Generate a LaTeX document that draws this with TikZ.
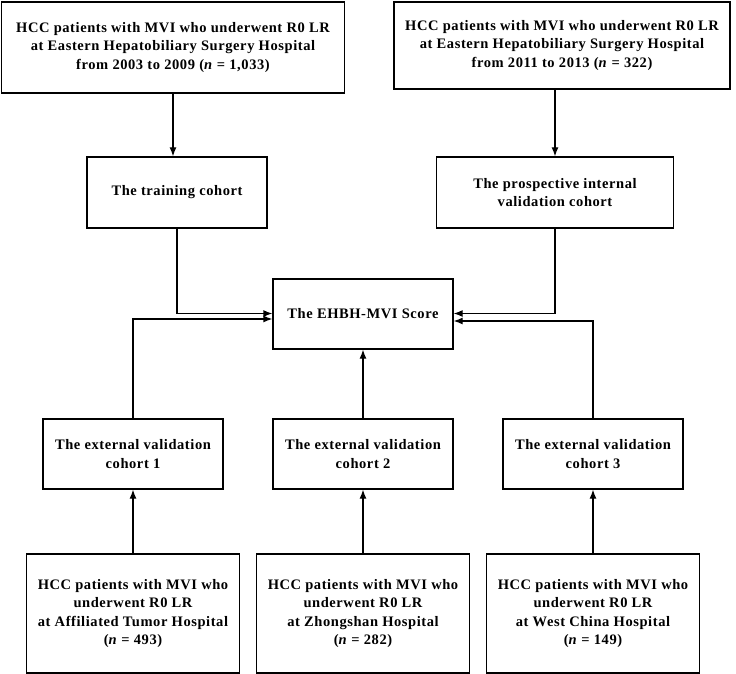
\documentclass[tikz,border=0pt]{standalone}
\usepackage{fontspec}
\setmainfont{Liberation Serif}[LetterSpace=4]
\usetikzlibrary{arrows.meta}
\begin{document}
\begin{tikzpicture}[x=1pt,y=-1pt,
  box/.style={draw, line width=1.3pt, align=center, inner sep=0pt,
    font=\bfseries\fontsize{14.5}{18.3}\selectfont},
  conn/.style={line width=1.3pt, -{Latex[length=9pt,width=7pt]}}]
\useasboundingbox (0,0) rectangle (736,674);
\node[box, minimum width=343pt, minimum height=91pt] (tl) at (173,47.5)
  {HCC patients with MVI who underwent R0 LR\\at Eastern Hepatobiliary Surgery Hospital\\from 2003 to 2009 (\textit{n} = 1,033)};
\node[box, minimum width=336pt, minimum height=87pt] (tr) at (562,45.5)
  {HCC patients with MVI who underwent R0 LR\\at Eastern Hepatobiliary Surgery Hospital\\from 2011 to 2013 (\textit{n} = 322)};
\node[box, minimum width=180pt, minimum height=71pt] (train) at (177,192.5)
  {The training cohort};
\node[box, minimum width=237pt, minimum height=71pt] (pro) at (555,192.5)
  {The prospective internal\\validation cohort};
\node[box, minimum width=180pt, minimum height=70pt] (score) at (363,314)
  {The EHBH-MVI Score};
\node[box, minimum width=180pt, minimum height=70pt] (e1) at (133,454)
  {The external validation\\cohort 1};
\node[box, minimum width=180pt, minimum height=70pt] (e2) at (363,454)
  {The external validation\\cohort 2};
\node[box, minimum width=180pt, minimum height=70pt] (e3) at (593,454)
  {The external validation\\cohort 3};
\node[box, minimum width=213pt, minimum height=119pt] (b1) at (133,613.5)
  {HCC patients with MVI who\\underwent R0 LR\\at Affiliated Tumor Hospital\\(\textit{n} = 493)};
\node[box, minimum width=213pt, minimum height=119pt] (b2) at (363,613.5)
  {HCC patients with MVI who\\underwent R0 LR\\at Zhongshan Hospital\\(\textit{n} = 282)};
\node[box, minimum width=213pt, minimum height=119pt] (b3) at (593,613.5)
  {HCC patients with MVI who\\underwent R0 LR\\at West China Hospital\\(\textit{n} = 149)};
% top arrows
\draw[conn] (tl.south) -- (tl.south |- train.north);
\draw[conn] (pro.north |- tr.south) -- (pro.north);
% into score
\draw[conn] (train.south) |- ([yshift=0.5pt]score.west);
\draw[conn] (e1.north) |- ([yshift=-5pt]score.west);
\draw[conn] (pro.south) |- ([yshift=0.5pt]score.east);
\draw[conn] (e3.north) |- ([yshift=-7pt]score.east);
\draw[conn] (e2.north) -- (score.south);
% bottom arrows
\draw[conn] (b1.north) -- (e1.south);
\draw[conn] (b2.north) -- (e2.south);
\draw[conn] (b3.north) -- (e3.south);
\end{tikzpicture}
\end{document}
